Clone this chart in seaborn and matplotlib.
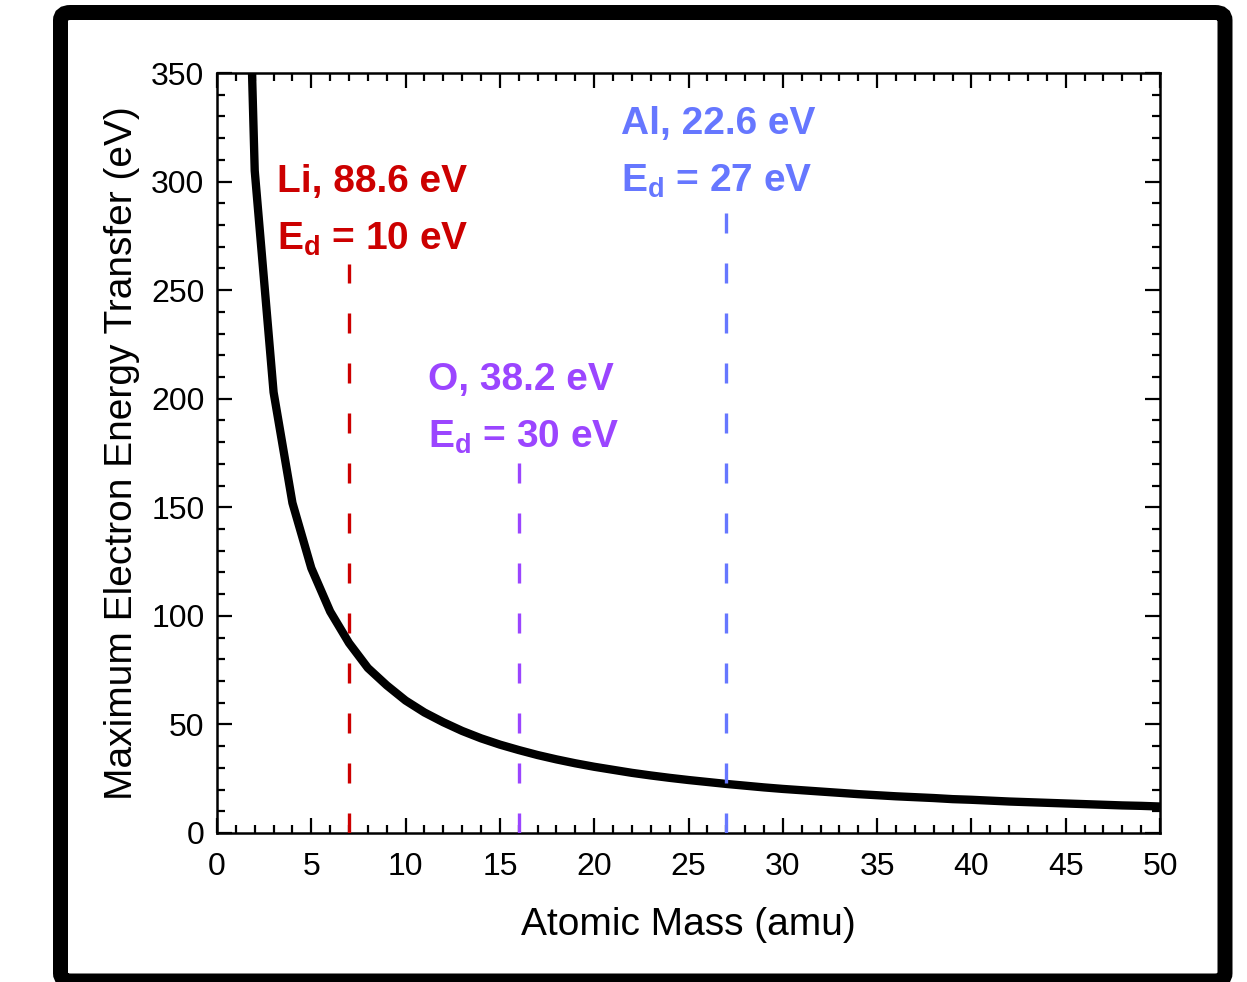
import matplotlib
matplotlib.use("Agg")
import matplotlib.pyplot as plt
from matplotlib.patches import FancyBboxPatch
from matplotlib.ticker import MultipleLocator
import seaborn as sns
import pandas as pd

# ---- data ----
atomic_mass = list(range(1, 51))
max_energy = [620, 305, 203, 152, 122, 102, 87.5, 76, 68, 61,
              55.5, 51, 47, 43.6, 40.7, 38.2, 35.9, 33.9, 32.1, 30.5,
              29.1, 27.7, 26.5, 25.4, 24.4, 23.5, 22.6, 21.8, 21.0, 20.3,
              19.7, 19.1, 18.5, 17.9, 17.4, 16.9, 16.5, 16.1, 15.6, 15.3,
              14.9, 14.5, 14.2, 13.9, 13.6, 13.3, 13.0, 12.7, 12.5, 12.2]

elements = ["Li", "O", "Al"]
element_mass = [7, 16, 27]
element_energy = ["88.6", "38.2", "22.6"]
displacement_energy = ["10", "30", "27"]
marker_top = [262, 174, 287]
element_colors = ["#cc0000", "#9b45ff", "#6677ff"]
label_x = [3.2, 11.2, 21.4]
label_y1 = [295, 204, 322]
label_y2 = [268.5, 177.5, 295.5]

xticks = [0, 5, 10, 15, 20, 25, 30, 35, 40, 45, 50]
yticks = [0, 50, 100, 150, 200, 250, 300, 350]

df = pd.DataFrame({"mass": atomic_mass, "energy": max_energy})

sns.set_style("ticks")
plt.rcParams["font.family"] = ["Liberation Sans", "DejaVu Sans"]
plt.rcParams["mathtext.fontset"] = "custom"
plt.rcParams["mathtext.bf"] = "Liberation Sans:bold"
plt.rcParams["mathtext.rm"] = "Liberation Sans"
plt.rcParams["text.color"] = "black"
plt.rcParams["axes.labelcolor"] = "black"

fig = plt.figure(figsize=(12.47, 9.82), dpi=100)
ax = fig.add_axes([217 / 1247, 149 / 982, 943 / 1247, 760 / 982])

# outer rounded frame
frame = FancyBboxPatch((60.5 / 1247, 1.0 / 982), (1225 - 60.5) / 1247, (981 - 12.5) / 982,
                       boxstyle="round,pad=0,rounding_size=0.008",
                       transform=fig.transFigure, fill=False, edgecolor="black",
                       linewidth=10.8, clip_on=False, zorder=0)
fig.patches.append(frame)

sns.lineplot(data=df, x="mass", y="energy", ax=ax, color="black", linewidth=6,
             zorder=2, solid_capstyle="butt")

for el, m, e, ed, top, c, lx, y1, y2 in zip(elements, element_mass, element_energy,
                                            displacement_energy, marker_top, element_colors,
                                            label_x, label_y1, label_y2):
    ax.plot([m, m], [0, top], color=c, linewidth=2.4, dashes=(6, 9), zorder=3)
    ax.text(lx, y1, f"{el}, {e} eV", color=c, fontsize=28, fontweight="bold",
            ha="left", va="baseline", zorder=4)
    ax.text(lx, y2, r"$\mathbf{E_d}$" + f" = {ed} eV", color=c, fontsize=28,
            fontweight="bold", ha="left", va="baseline", zorder=4)

ax.set_xlim(0, 50)
ax.set_ylim(0, 350)
ax.set_xticks(xticks)
ax.set_yticks(yticks)
ax.xaxis.set_minor_locator(MultipleLocator(1))
ax.yaxis.set_minor_locator(MultipleLocator(10))
ax.tick_params(which="both", direction="in", top=True, right=True, width=1.6,
               labelsize=23, colors="black", labelcolor="black")
ax.tick_params(which="major", length=11)
ax.tick_params(which="minor", length=5.5)
ax.tick_params(axis="y", pad=9)
ax.tick_params(axis="x", pad=14)
for sp in ax.spines.values():
    sp.set_visible(True)
    sp.set_linewidth(1.8)
    sp.set_color("black")

ax.set_xlabel("Atomic Mass (amu)", fontsize=28, labelpad=18, color="black")
ax.set_ylabel("Maximum Electron Energy Transfer (eV)", fontsize=28, labelpad=8,
              color="black")

fig.savefig("out.png", dpi=100)
